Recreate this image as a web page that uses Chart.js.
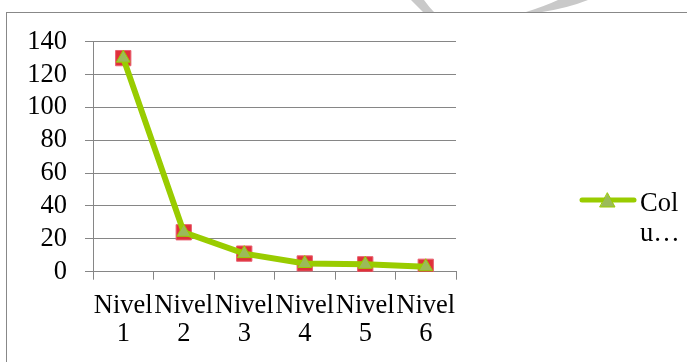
<!DOCTYPE html>
<html>
<head>
<meta charset="utf-8">
<script src="https://cdn.jsdelivr.net/npm/chart.js@4/dist/chart.umd.min.js"></script>
<style>
  html, body { margin: 0; padding: 0; background: #fff; overflow: hidden; }
  #wrap { width: 687px; height: 362px; position: relative; }
</style>
</head>
<body>
<div id="wrap"><canvas id="c" width="687" height="362"></canvas></div>
<script>
// Categories (two-line labels) and series values
const categories = [['Nivel', '1'], ['Nivel', '2'], ['Nivel', '3'], ['Nivel', '4'], ['Nivel', '5'], ['Nivel', '6']];
const squareSeries = [130, 24, 11, 5, 4.5, 3];
const columnSeries = [130, 24, 11, 5, 4.5, 3];
const columnName = 'Columna1';
const legendText = ['Col', 'u…'];
const yMin = 0, yMax = 140, yStep = 20;

const FONT = { family: '"Liberation Serif", "Times New Roman", serif', size: 26.5 };
const GRID = '#868686';
const GREEN = '#99CC00';
const OLIVE = '#9BBB59';
const RED = '#E0303A';

// Frame, with a faint grey emblem peeking above it
const framePlugin = {
  id: 'frame',
  beforeDraw(chart) {
    const ctx = chart.ctx;
    ctx.save();
    ctx.fillStyle = '#c9c9c9';
    ctx.beginPath();
    ctx.moveTo(411, 0);
    ctx.lineTo(424, 0);
    ctx.quadraticCurveTo(429, 7, 434, 12);
    ctx.lineTo(423, 12);
    ctx.quadraticCurveTo(417, 6, 411, 0);
    ctx.fill();
    ctx.beginPath();
    ctx.moveTo(558, 0);
    ctx.lineTo(588, 0);
    ctx.quadraticCurveTo(568, 8, 542, 12);
    ctx.lineTo(526, 12);
    ctx.quadraticCurveTo(545, 6, 558, 0);
    ctx.fill();
    ctx.fillStyle = '#fff';
    ctx.fillRect(6, 12, 700, 400);
    ctx.strokeStyle = '#888';
    ctx.lineWidth = 1;
    ctx.strokeRect(6.5, 12.5, 700, 400);
    ctx.restore();
  }
};

// Legend drawn at the right with a wrapped, truncated name
const legendPlugin = {
  id: 'sideLegend',
  afterDraw(chart) {
    const ctx = chart.ctx;
    ctx.save();
    ctx.strokeStyle = GREEN;
    ctx.lineWidth = 5;
    ctx.lineCap = 'round';
    ctx.beginPath();
    ctx.moveTo(582, 200);
    ctx.lineTo(634, 200);
    ctx.stroke();
    ctx.fillStyle = OLIVE;
    ctx.strokeStyle = GREEN;
    ctx.lineWidth = 1;
    ctx.beginPath();
    ctx.moveTo(607.5, 193);
    ctx.lineTo(615, 207);
    ctx.lineTo(600, 207);
    ctx.closePath();
    ctx.fill();
    ctx.stroke();
    ctx.fillStyle = '#000';
    ctx.font = FONT.size + 'px ' + FONT.family;
    ctx.textBaseline = 'alphabetic';
    ctx.textAlign = 'left';
    ctx.fillText(legendText[0], 640, 211);
    ctx.fillText(legendText[1], 640, 241);
    ctx.restore();
  }
};

new Chart(document.getElementById('c'), {
  type: 'line',
  data: {
    labels: categories,
    datasets: [
      {
        label: columnName,
        data: columnSeries,
        order: 0,
        borderColor: GREEN,
        borderWidth: 6,
        tension: 0,
        pointStyle: 'triangle',
        pointRadius: 8,
        pointBackgroundColor: OLIVE,
        pointBorderColor: GREEN,
        pointBorderWidth: 1
      },
      {
        label: 'Serie',
        data: squareSeries,
        order: 1,
        showLine: false,
        pointStyle: 'rect',
        pointRadius: 10.8,
        pointBackgroundColor: RED,
        pointBorderColor: '#E86070',
        pointBorderWidth: 1
      }
    ]
  },
  options: {
    responsive: false,
    animation: false,
    layout: { padding: { top: 41.7, right: 231, left: 0, bottom: 0 } },
    plugins: { legend: { display: false }, tooltip: { enabled: false } },
    scales: {
      x: {
        offset: true,
        grid: { offset: true, drawOnChartArea: false, tickLength: 8, color: GRID },
        border: { color: GRID },
        ticks: { font: { ...FONT, lineHeight: 1.06 }, color: '#000', padding: 12, maxRotation: 0, autoSkip: false },
        afterFit(scale) { scale.height = 90.3; }
      },
      y: {
        min: yMin,
        max: yMax,
        grid: { color: GRID, tickLength: 8 },
        border: { color: GRID },
        ticks: { stepSize: yStep, font: FONT, color: '#000', padding: 18, autoSkip: false },
        afterFit(scale) { scale.width = 93; }
      }
    }
  },
  plugins: [framePlugin, legendPlugin]
});
</script>
</body>
</html>
